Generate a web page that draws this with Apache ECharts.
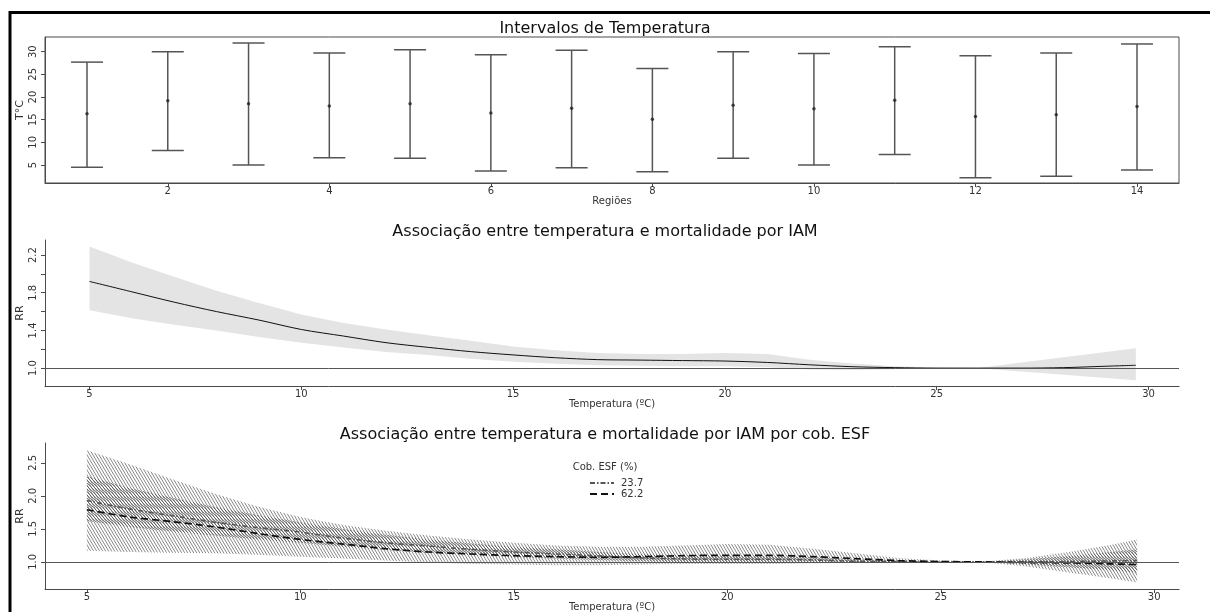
<!DOCTYPE html>
<html>
<head>
<meta charset="utf-8">
<script src="https://cdn.jsdelivr.net/npm/echarts@6/dist/echarts.min.js"></script>
<style>
  html, body { margin: 0; padding: 0; background: #fff; }
  #chart { width: 1210px; height: 612px; }
</style>
</head>
<body>
<div id="chart"></div>
<script>
// ---- Panel 1: temperature range per region ----
const regions  = [1, 2, 3, 4, 5, 6, 7, 8, 9, 10, 11, 12, 13, 14];
const tempLow  = [4.5, 8.2, 5.0, 6.6, 6.5, 3.7, 4.4, 3.5, 6.5, 5.0, 7.3, 2.2, 2.5, 3.9];
const tempMean = [16.3, 19.2, 18.5, 18.0, 18.5, 16.5, 17.5, 15.1, 18.2, 17.4, 19.3, 15.7, 16.1, 17.9];
const tempHigh = [27.7, 30.0, 31.9, 29.7, 30.4, 29.3, 30.3, 26.3, 30.0, 29.6, 31.1, 29.1, 29.7, 31.7];
const regionTicks = [2, 4, 6, 8, 10, 12, 14];
const tempTicks = [5, 10, 15, 20, 25, 30];

// ---- Panel 2: overall exposure-response curve ----
const temp2 = [5, 6, 7, 8, 9, 10, 11, 12, 13, 14, 15, 16, 17, 18, 19, 20, 21, 22, 23, 24, 25, 26, 27, 28, 29, 29.7];
const rr2   = [1.92, 1.81, 1.70, 1.60, 1.51, 1.41, 1.34, 1.27, 1.22, 1.175, 1.14, 1.11, 1.09, 1.085, 1.08, 1.075, 1.06, 1.035, 1.015, 1.005, 1.0, 1.0, 1.0, 1.005, 1.02, 1.03];
const hi2   = [2.29, 2.12, 1.97, 1.82, 1.69, 1.57, 1.48, 1.41, 1.35, 1.29, 1.23, 1.19, 1.16, 1.15, 1.15, 1.16, 1.15, 1.09, 1.05, 1.02, 1.006, 1.002, 1.06, 1.116, 1.17, 1.21];
const lo2   = [1.615, 1.53, 1.46, 1.40, 1.33, 1.27, 1.22, 1.17, 1.14, 1.10, 1.067, 1.045, 1.03, 1.025, 1.02, 1.02, 1.01, 0.985, 0.98, 0.988, 0.995, 0.998, 0.964, 0.93, 0.894, 0.87];
const rrTicks2 = [1.0, 1.2, 1.4, 1.6, 1.8, 2.0, 2.2];
const rrLabels2 = [1.0, 1.4, 1.8, 2.2];
const tempAxisTicks = [5, 10, 15, 20, 25, 30];

// ---- Panel 3: curves by ESF coverage ----
const temp3  = [5, 6, 7, 8, 9, 10, 11, 12, 13, 14, 15, 16, 17, 18, 19, 20, 21, 22, 23, 24, 25, 26, 27, 28, 29, 29.6];
const rrLow  = [1.93, 1.80, 1.70, 1.60, 1.52, 1.45, 1.36, 1.29, 1.24, 1.19, 1.15, 1.12, 1.09, 1.06, 1.045, 1.04, 1.04, 1.03, 1.01, 1.005, 1.0, 1.0, 1.0, 1.005, 1.015, 1.02];
const hiLow  = [2.30, 2.12, 1.97, 1.83, 1.71, 1.60, 1.50, 1.41, 1.34, 1.28, 1.23, 1.19, 1.15, 1.12, 1.10, 1.10, 1.09, 1.07, 1.04, 1.02, 1.005, 1.002, 1.04, 1.09, 1.15, 1.19];
const loLow  = [1.62, 1.53, 1.46, 1.40, 1.34, 1.29, 1.23, 1.18, 1.14, 1.10, 1.07, 1.05, 1.03, 1.01, 0.995, 0.99, 0.99, 0.99, 0.985, 0.99, 0.995, 0.998, 0.96, 0.92, 0.87, 0.84];
const rrHigh = [1.79, 1.68, 1.61, 1.53, 1.43, 1.34, 1.27, 1.20, 1.15, 1.12, 1.095, 1.08, 1.07, 1.08, 1.095, 1.10, 1.10, 1.08, 1.05, 1.02, 1.005, 1.0, 0.99, 0.985, 0.97, 0.96];
const hiHigh = [2.69, 2.48, 2.25, 2.03, 1.84, 1.68, 1.56, 1.47, 1.40, 1.34, 1.29, 1.25, 1.23, 1.23, 1.25, 1.27, 1.26, 1.20, 1.13, 1.06, 1.02, 1.005, 1.06, 1.15, 1.26, 1.34];
const loHigh = [1.17, 1.15, 1.14, 1.13, 1.11, 1.08, 1.05, 1.02, 0.99, 0.97, 0.96, 0.95, 0.95, 0.96, 0.97, 0.97, 0.97, 0.98, 0.985, 0.99, 0.995, 0.995, 0.93, 0.84, 0.75, 0.69];
const rrTicks3 = [1.0, 1.5, 2.0, 2.5];
const coverageNames = ['23.7', '62.2'];

// diagonal hatch tile used as a repeating fill
function hatch(w, h, color, lw) {
  const c = document.createElement('canvas');
  c.width = w; c.height = h;
  const g = c.getContext('2d');
  g.strokeStyle = color;
  g.lineWidth = lw;
  g.beginPath();
  g.moveTo(-w, -h); g.lineTo(2 * w, 2 * h);
  g.moveTo(-2 * w, -h); g.lineTo(w, 2 * h);
  g.moveTo(0, -h); g.lineTo(3 * w, 2 * h);
  g.stroke();
  return { image: c, repeat: 'repeat' };
}

const pairs = (xs, ys) => xs.map((x, i) => [x, ys[i]]);

// confidence band drawn as one polygon through the axis scales
function bandSeries(axisIndex, xs, lo, hi, fill) {
  return {
    type: 'custom', xAxisIndex: axisIndex, yAxisIndex: axisIndex, silent: true,
    data: xs.map((x, i) => [x, lo[i], hi[i]]),
    encode: { x: 0, y: [1, 2] },
    renderItem(params, api) {
      if (params.dataIndexInside !== 0) return null;
      const n = params.dataInsideLength || xs.length;
      const top = [], bottom = [];
      for (let i = 0; i < n; i++) {
        const x = api.value(0, i);
        top.push(api.coord([x, api.value(2, i)]));
        bottom.push(api.coord([x, api.value(1, i)]));
      }
      return { type: 'polygon', shape: { points: top.concat(bottom.reverse()) }, style: { fill } };
    }
  };
}

const FONT = 'DejaVu Sans';
const axisColor = '#4a4a4a';
const labelStyle = { color: '#333', fontSize: 10, fontFamily: FONT };

function xAxisCfg(gridIndex, min, max, ticks, name, nameGap) {
  return {
    type: 'value', gridIndex, min, max,
    name, nameLocation: 'middle', nameGap,
    nameTextStyle: { color: '#333', fontSize: 10, fontFamily: FONT },
    axisLine: { show: true, lineStyle: { color: axisColor, width: 1 } },
    axisTick: { show: true, length: 4, lineStyle: { color: axisColor }, customValues: ticks },
    axisLabel: { ...labelStyle, margin: 3, customValues: ticks, formatter: v => String(v) },
    splitLine: { show: false }
  };
}
function yAxisCfg(gridIndex, min, max, ticks, labels, fmt, name) {
  return {
    type: 'value', gridIndex, min, max,
    name, nameLocation: 'middle', nameGap: 19, nameRotate: 90, nameMoveOverlap: false,
    nameTextStyle: { color: '#333', fontSize: 11, fontFamily: FONT },
    axisLine: { show: true, lineStyle: { color: axisColor, width: 1 } },
    axisTick: { show: true, length: 4, lineStyle: { color: axisColor }, customValues: ticks },
    axisLabel: { ...labelStyle, rotate: 90, margin: 7, customValues: labels, formatter: fmt },
    splitLine: { show: false }
  };
}

const refLine = {
  silent: true, symbol: 'none', label: { show: false },
  lineStyle: { color: '#555', width: 1, type: 'solid' },
  data: [{ yAxis: 1 }]
};

const chart = echarts.init(document.getElementById('chart'), null, { renderer: 'canvas' });

const titleStyle = { fontFamily: FONT, fontSize: 16, fontWeight: 'normal', color: '#111' };

const option = {
  animation: false,
  backgroundColor: '#fff',
  title: [
    { text: 'Intervalos de Temperatura', left: 'center', top: 16, textStyle: titleStyle },
    { text: 'Associação entre temperatura e mortalidade por IAM', left: 'center', top: 219, textStyle: titleStyle },
    { text: 'Associação entre temperatura e mortalidade por IAM por cob. ESF', left: 'center', top: 422, textStyle: titleStyle }
  ],
  grid: [
    { left: 45, top: 37, width: 1134, height: 146, show: true, borderColor: axisColor, borderWidth: 1, outerBoundsMode: 'none' },
    { left: 45, top: 240, width: 1134, height: 146, outerBoundsMode: 'none' },
    { left: 45, top: 443, width: 1134, height: 146, outerBoundsMode: 'none' }
  ],
  xAxis: [
    xAxisCfg(0, 0.48, 14.52, regionTicks, 'Regiões', 13),
    xAxisCfg(1, 3.95, 30.72, tempAxisTicks, 'Temperatura (ºC)', 13),
    xAxisCfg(2, 4.02, 30.58, tempAxisTicks, 'Temperatura (ºC)', 13)
  ],
  yAxis: [
    yAxisCfg(0, 1.03, 33.24, tempTicks, tempTicks, v => String(v), 'T°C'),
    yAxisCfg(1, 0.81, 2.36, rrTicks2, rrLabels2, v => v.toFixed(1), 'RR'),
    yAxisCfg(2, 0.59, 2.80, rrTicks3, rrTicks3, v => v.toFixed(1), 'RR')
  ],
  legend: {
    data: coverageNames,
    orient: 'vertical',
    left: 584, top: 473,
    itemWidth: 24, itemHeight: 10, itemGap: 1,
    selectedMode: false,
    itemStyle: { opacity: 0 },
    textStyle: { fontFamily: FONT, fontSize: 10, color: '#333', padding: [0, 0, 0, 2] }
  },
  graphic: [
    { type: 'text', left: 'center', top: 462,
      style: { text: 'Cob. ESF (%)', fontFamily: FONT, fontSize: 10, fill: '#333' } },
    { type: 'rect', silent: true, shape: { x: 10, y: 12.5, width: 1300, height: 700 },
      style: { fill: 'none', stroke: '#000', lineWidth: 3 } }
  ],
  series: [
    // error bars with caps
    {
      type: 'custom', xAxisIndex: 0, yAxisIndex: 0, silent: true,
      data: regions.map((r, i) => [r, tempLow[i], tempHigh[i]]),
      encode: { x: 0, y: [1, 2] },
      renderItem(params, api) {
        const x = api.value(0);
        const pLo = api.coord([x, api.value(1)]);
        const pHi = api.coord([x, api.value(2)]);
        const half = 16;
        const st = { stroke: '#555', lineWidth: 1.5 };
        return { type: 'group', children: [
          { type: 'line', shape: { x1: pLo[0], y1: pLo[1], x2: pHi[0], y2: pHi[1] }, style: st },
          { type: 'line', shape: { x1: pLo[0] - half, y1: pLo[1], x2: pLo[0] + half, y2: pLo[1] }, style: st },
          { type: 'line', shape: { x1: pHi[0] - half, y1: pHi[1], x2: pHi[0] + half, y2: pHi[1] }, style: st }
        ]};
      }
    },
    {
      type: 'scatter', xAxisIndex: 0, yAxisIndex: 0, silent: true,
      data: pairs(regions, tempMean), symbol: 'circle', symbolSize: 3.5,
      itemStyle: { color: '#222' }
    },

    // overall curve: confidence band + estimate
    bandSeries(1, temp2, lo2, hi2, '#e4e4e4'),
    {
      type: 'line', xAxisIndex: 1, yAxisIndex: 1, silent: true,
      data: pairs(temp2, rr2), symbol: 'none', smooth: 0.3,
      lineStyle: { color: '#111', width: 1 },
      markLine: refLine
    },

    // curves by coverage: hatched bands
    bandSeries(2, temp3, loHigh, hiHigh, hatch(3, 5, '#6a6a6a', 0.8)),
    bandSeries(2, temp3, loLow, hiLow, hatch(3, 3, '#4a4a4a', 0.7)),
    {
      name: '23.7', type: 'line', xAxisIndex: 2, yAxisIndex: 2, silent: true,
      data: pairs(temp3, rrLow), symbol: 'none', smooth: 0.3,
      itemStyle: { color: '#555' },
      lineStyle: { color: '#555', width: 1.6, type: [5, 2, 1.5, 2] },
      markLine: refLine
    },
    {
      name: '62.2', type: 'line', xAxisIndex: 2, yAxisIndex: 2, silent: true,
      data: pairs(temp3, rrHigh), symbol: 'none', smooth: 0.3,
      itemStyle: { color: '#111' },
      lineStyle: { color: '#111', width: 1.7, type: [7, 4] }
    }
  ]
};

chart.setOption(option);
</script>
</body>
</html>
